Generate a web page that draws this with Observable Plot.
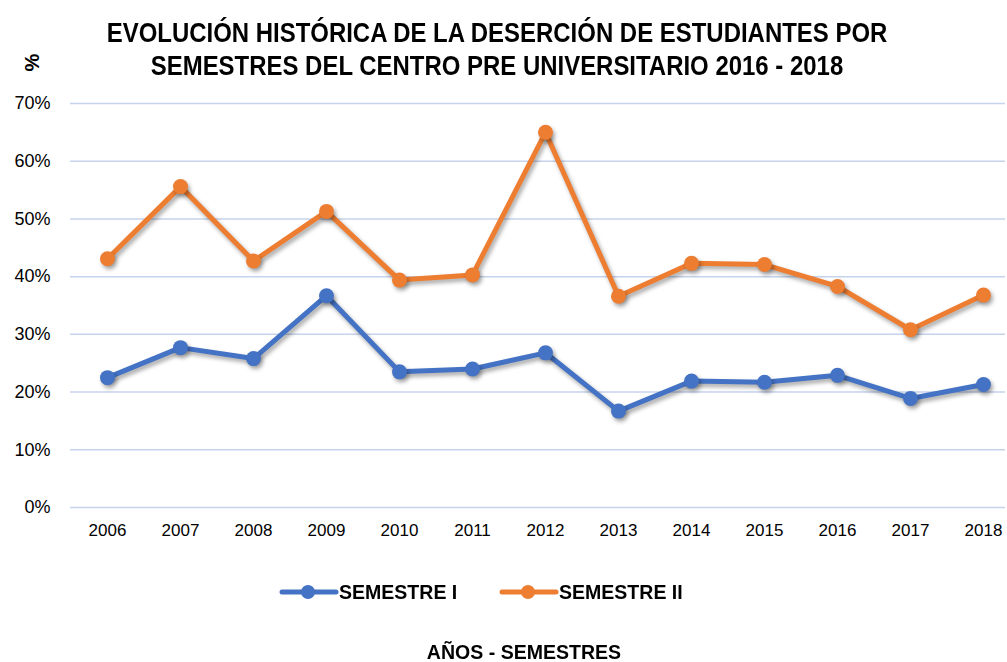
<!DOCTYPE html>
<html><head><meta charset="utf-8">
<script src="https://cdn.jsdelivr.net/npm/d3@7"></script>
<script src="https://cdn.jsdelivr.net/npm/@observablehq/plot@0.6"></script>
<style>
body{margin:0;background:#fff;font-family:"Liberation Sans",Arial,sans-serif;}
#wrap{position:relative;width:1007px;height:662px;overflow:hidden;}
.title{position:absolute;left:0;width:994px;top:17px;text-align:center;font-weight:bold;font-size:27px;line-height:33px;color:#000;transform:scaleX(0.887);transform-origin:497px 0;}
.pct{position:absolute;left:24px;top:51px;transform:rotate(-90deg);font-weight:bold;font-size:20px;}
#chart{position:absolute;left:0;top:90px;}
.legend{position:absolute;top:580px;left:0;width:1007px;font-weight:bold;font-size:21px;}
.legend span.item{position:absolute;display:flex;align-items:center;}
.legend span.txt{display:inline-block;transform:scaleX(0.93);transform-origin:0 50%;}
.xlabel{position:absolute;top:640px;left:0;width:1048px;text-align:center;font-weight:bold;font-size:21px;transform:scaleX(0.93);transform-origin:524px 0;}
g[aria-label="line"], g[aria-label="dot"]{filter:drop-shadow(2px 3px 2px rgba(0,0,0,0.35));}
</style></head>
<body>
<div id="wrap">
  <div class="title">EVOLUCIÓN HISTÓRICA DE LA DESERCIÓN DE ESTUDIANTES POR<br>SEMESTRES DEL CENTRO PRE UNIVERSITARIO 2016 - 2018</div>
  <div class="pct">%</div>
  <div id="chart"></div>
  <div class="legend">
    <span class="item" style="left:279px"><svg width="60" height="20"><line x1="3" y1="10" x2="57" y2="10" stroke="#4472c4" stroke-width="5" stroke-linecap="round"/><circle cx="29" cy="10" r="7" fill="#4472c4"/></svg><span class="txt">SEMESTRE I</span></span>
    <span class="item" style="left:499px"><svg width="60" height="20"><line x1="3" y1="10" x2="57" y2="10" stroke="#ed7d31" stroke-width="5" stroke-linecap="round"/><circle cx="29" cy="10" r="7" fill="#ed7d31"/></svg><span class="txt">SEMESTRE II</span></span>
  </div>
  <div class="xlabel">AÑOS - SEMESTRES</div>
</div>
<script>
const years = ["2006","2007","2008","2009","2010","2011","2012","2013","2014","2015","2016","2017","2018"];
const semestreI  = [22.5,27.7,25.8,36.7,23.5,24.0,26.8,16.7,21.9,21.7,22.9,18.9,21.3];
const semestreII = [43.1,55.6,42.7,51.3,39.4,40.3,65.0,36.6,42.3,42.1,38.3,30.8,36.8];
const seriesNames = ["SEMESTRE I","SEMESTRE II"];
const seriesColors = ["#4472c4","#ed7d31"];
const yTicks = [0,10,20,30,40,50,60,70];

const data = [];
years.forEach((y,i)=>{
  data.push({year:y, value:semestreI[i], serie:seriesNames[0]});
  data.push({year:y, value:semestreII[i], serie:seriesNames[1]});
});

const chart = Plot.plot({
  width:1007, height:457,
  marginTop:13, marginBottom:40, marginLeft:70, marginRight:2,
  style:{fontFamily:"'Liberation Sans',Arial,sans-serif", fontSize:"17px", color:"#000", background:"transparent"},
  x:{type:"point", domain:years, range:[107,983], padding:0, label:null},
  y:{domain:[0,70], label:null},
  color:{domain:seriesNames, range:seriesColors},
  marks:[
    Plot.ruleY(yTicks, {stroke:"#c5d3ec", strokeWidth:1.5}),
    Plot.axisY(yTicks, {tickSize:0, tickPadding:20, tickFormat:d=>d+"%", label:null, fontSize:18}),
    Plot.axisX(years, {tickSize:0, tickPadding:16, label:null, fontSize:17}),
    Plot.line(data, {x:"year", y:"value", z:"serie", stroke:"serie", strokeWidth:5}),
    Plot.dot(data, {x:"year", y:"value", fill:"serie", r:7.5})
  ]
});
document.getElementById("chart").appendChild(chart);
</script>
</body></html>
